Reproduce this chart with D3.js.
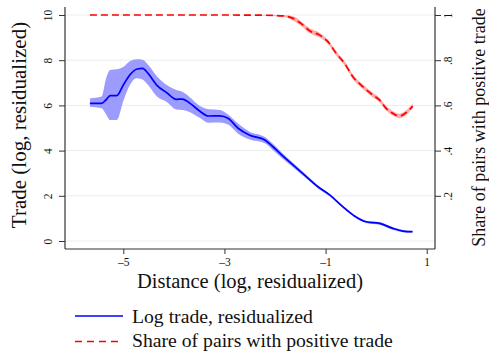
<!DOCTYPE html>
<html>
<head>
<meta charset="utf-8">
<script src="https://cdn.jsdelivr.net/npm/d3@7"></script>
<style>
  html, body { margin: 0; padding: 0; background: #fff; }
  #container { width: 489px; height: 354px; }
</style>
</head>
<body>
<div id="container"></div>
<script>
// distance (log, residualized) grid for the trade curve
const distance = [-5.66, -5.43, -5.34, -5.26, -5.13, -5.0, -4.87, -4.74, -4.62, -4.51, -4.34, -4.14, -3.95, -3.83, -3.68, -3.49, -3.32, -3.09, -2.93, -2.73, -2.51, -2.20, -2.04, -1.87, -1.64, -1.38, -1.15, -0.92, -0.66, -0.43, -0.20, 0.07, 0.33, 0.53, 0.72];
const trade   = [6.09, 6.09, 6.25, 6.43, 6.43, 6.9, 7.35, 7.6, 7.64, 7.42, 6.9, 6.56, 6.27, 6.28, 6.09, 5.75, 5.53, 5.54, 5.43, 4.99, 4.69, 4.47, 4.17, 3.81, 3.36, 2.85, 2.40, 2.04, 1.52, 1.11, 0.85, 0.78, 0.56, 0.44, 0.41];
const tradeHi = [6.31, 6.39, 7.2, 7.57, 7.6, 7.7, 7.95, 8.04, 8.02, 7.8, 7.3, 6.9, 6.68, 6.6, 6.35, 5.98, 5.83, 5.8, 5.6, 5.2, 4.85, 4.6, 4.3, 3.93, 3.45, 2.92, 2.46, 2.09, 1.56, 1.15, 0.9, 0.84, 0.61, 0.49, 0.46];
const tradeLo = [5.94, 5.87, 5.6, 5.35, 5.35, 6.2, 6.9, 7.2, 7.15, 6.9, 6.4, 6.15, 5.82, 5.8, 5.7, 5.45, 5.23, 5.24, 5.15, 4.75, 4.5, 4.32, 4.02, 3.68, 3.25, 2.76, 2.32, 1.98, 1.46, 1.06, 0.8, 0.72, 0.5, 0.39, 0.36];

// share of pairs with positive trade
const shareDist = [-5.66, -4.0, -3.0, -2.2, -1.84, -1.645, -1.45, -1.315, -1.118, -0.954, -0.789, -0.625, -0.46, -0.263, -0.066, 0.066, 0.198, 0.329, 0.461, 0.593, 0.723];
const share     = [1.0, 1.0, 1.0, 0.999, 0.996, 0.985, 0.956, 0.93, 0.911, 0.882, 0.830, 0.786, 0.727, 0.683, 0.646, 0.624, 0.587, 0.565, 0.553, 0.568, 0.597];
const shareHi   = [1.0, 1.0, 1.0, 1.0, 1.0, 0.994, 0.966, 0.941, 0.922, 0.892, 0.840, 0.796, 0.737, 0.693, 0.656, 0.634, 0.597, 0.575, 0.563, 0.578, 0.607];
const shareLo   = [1.0, 1.0, 1.0, 0.998, 0.992, 0.976, 0.946, 0.919, 0.900, 0.872, 0.820, 0.776, 0.717, 0.673, 0.636, 0.614, 0.577, 0.555, 0.543, 0.558, 0.587];

const xTicks = [-5, -3, -1, 1];
const yTicks = [0, 2, 4, 6, 8, 10];
const y2Ticks = [0.2, 0.4, 0.6, 0.8, 1];
const y2Labels = [".2", ".4", ".6", ".8", "1"];

const serif = '"Liberation Serif"';
const width = 489, height = 354;
const svg = d3.select("#container").append("svg")
    .attr("width", width)
    .attr("height", height);

const plot = {left: 65, right: 435, top: 7, bottom: 249};

const x = d3.scaleLinear().domain([-5, 1]).range([123.3, 426.7]);
const y = d3.scaleLinear().domain([0, 10]).range([241, 15]);
const y2 = d3.scaleLinear().domain([0, 1]).range([241, 15]);

// grid
svg.append("g")
    .selectAll("line")
    .data(yTicks)
    .join("line")
    .attr("x1", plot.left).attr("x2", plot.right)
    .attr("y1", d => y(d)).attr("y2", d => y(d))
    .attr("stroke", "#e6efef").attr("stroke-width", 1);

// trade band + line
const tradeRows = distance.map((d, i) => ({x: d, v: trade[i], lo: tradeLo[i], hi: tradeHi[i]}));
svg.append("path")
    .datum(tradeRows)
    .attr("fill", "#9c9cff")
    .attr("d", d3.area().x(d => x(d.x)).y0(d => y(d.lo)).y1(d => y(d.hi)).curve(d3.curveMonotoneX));
svg.append("path")
    .datum(tradeRows)
    .attr("fill", "none").attr("stroke", "#0000ff").attr("stroke-width", 1.7)
    .attr("d", d3.line().x(d => x(d.x)).y(d => y(d.v)).curve(d3.curveMonotoneX));

// share band + line
const shareRows = shareDist.map((d, i) => ({x: d, v: share[i], lo: shareLo[i], hi: shareHi[i]}));
svg.append("path")
    .datum(shareRows)
    .attr("fill", "#ffaaaa")
    .attr("d", d3.area().x(d => x(d.x)).y0(d => y2(d.lo)).y1(d => y2(d.hi)).curve(d3.curveMonotoneX));
svg.append("path")
    .datum(shareRows)
    .attr("fill", "none").attr("stroke", "#ff0000").attr("stroke-width", 1.7)
    .attr("stroke-dasharray", "7,4")
    .attr("d", d3.line().x(d => x(d.x)).y(d => y2(d.v)).curve(d3.curveMonotoneX));

// axes
const axisColor = "#333";
const gLeft = svg.append("g").attr("transform", `translate(${plot.left},0)`)
    .call(d3.axisLeft(y).tickValues(yTicks).tickSize(6).tickPadding(4));
gLeft.select(".domain").attr("d", `M0,${plot.top}V${plot.bottom}`);
const gRight = svg.append("g").attr("transform", `translate(${plot.right},0)`)
    .call(d3.axisRight(y2).tickValues(y2Ticks).tickFormat((d, i) => y2Labels[i]).tickSize(6).tickPadding(4));
gRight.select(".domain").attr("d", `M0,${plot.top}V${plot.bottom}`);
const gBottom = svg.append("g").attr("transform", `translate(0,${plot.bottom})`)
    .call(d3.axisBottom(x).tickValues(xTicks).tickSize(5).tickPadding(4).tickFormat(d => d < 0 ? "\u2013" + Math.abs(d) : d));
gBottom.select(".domain").attr("d", `M${plot.left},0H${plot.right}`);

[gLeft, gRight, gBottom].forEach(g => {
    g.attr("font-family", "Liberation Serif").attr("font-size", 11);
    g.selectAll(".domain").attr("stroke", axisColor).attr("stroke-width", 1.2);
    g.selectAll(".tick line").attr("stroke", axisColor);
    g.selectAll("text").style("font-family", serif).style("font-size", "11.5px").attr("fill", "#111");
});
gBottom.selectAll("text").style("font-size", "11.5px");
// rotated tick labels on the vertical axes
gLeft.selectAll(".tick text")
    .attr("x", null).attr("dy", null)
    .attr("text-anchor", "middle")
    .attr("transform", "translate(-13.5,0) rotate(-90)");
gRight.selectAll(".tick text")
    .attr("x", null).attr("dy", null)
    .attr("text-anchor", "middle")
    .attr("transform", "translate(17,0) rotate(-90)");

// titles
function label(sel, size) {
    return sel.style("font-family", serif).style("font-size", size + "px").attr("fill", "#111");
}
label(svg.append("text"), 20.5)
    .attr("x", 250).attr("y", 288)
    .attr("text-anchor", "middle")
    .text("Distance (log, residualized)");
label(svg.append("text"), 21)
    .attr("transform", "translate(26,125) rotate(-90)")
    .attr("text-anchor", "middle")
    .text("Trade (log, residualized)");
label(svg.append("text"), 18)
    .attr("transform", "translate(485,127.5) rotate(-90)")
    .attr("text-anchor", "middle")
    .text("Share of pairs with positive trade");

// legend
const legend = svg.append("g");
legend.append("line").attr("x1", 75).attr("x2", 123).attr("y1", 316).attr("y2", 316)
    .attr("stroke", "#0000ff").attr("stroke-width", 1.7);
label(legend.append("text"), 19.7).attr("x", 132).attr("y", 323)
    .text("Log trade, residualized");
legend.append("line").attr("x1", 75).attr("x2", 123).attr("y1", 341.5).attr("y2", 341.5)
    .attr("stroke", "#ff0000").attr("stroke-width", 1.7).attr("stroke-dasharray", "7,5");
label(legend.append("text"), 19.7).attr("x", 132).attr("y", 347)
    .text("Share of pairs with positive trade");
</script>
</body>
</html>
